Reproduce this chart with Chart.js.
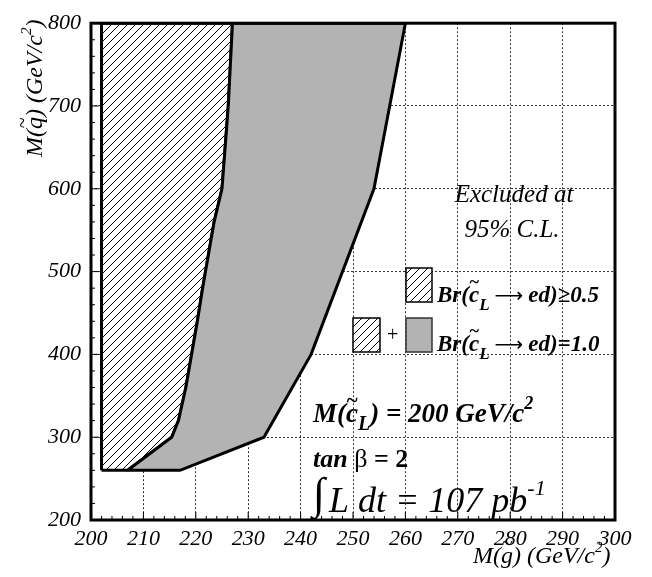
<!DOCTYPE html>
<html>
<head>
<meta charset="utf-8">
<script src="https://cdn.jsdelivr.net/npm/chart.js@4.4.1/dist/chart.umd.min.js"></script>
<style>
  html, body { margin: 0; padding: 0; background: #fff; }
  #wrap { width: 652px; height: 577px; }
</style>
</head>
<body>
<div id="wrap"><canvas id="c" width="652" height="577"></canvas></div>
<script>
// bord droit de la zone hachuree (Br >= 0.5), en (M(g~), M(q~))
const hatchX = [202, 202, 227, 226.2, 225, 223.5, 222.4, 221.3, 220.3, 219.2, 218.1, 216.7, 215.4, 207, 202];
const hatchY = [260, 800, 800, 700, 600, 560, 520, 480, 440, 400, 360, 320, 300, 260, 260];

// zone grise (Br = 1.0) : bord droit puis retour par la frontiere hachuree
const grayX = [207, 217, 233, 242, 254, 260, 227, 226.2, 225, 223.5, 222.4, 221.3, 220.3, 219.2, 218.1, 216.7, 215.4, 207];
const grayY = [260, 260, 300, 400, 600, 800, 800, 700, 600, 560, 520, 480, 440, 400, 360, 320, 300, 260];

const xTicks = [200, 210, 220, 230, 240, 250, 260, 270, 280, 290, 300];
const yTicks = [200, 300, 400, 500, 600, 700, 800];

const SERIF = '"Liberation Serif", "DejaVu Serif", serif';

function toPoints(xs, ys) {
    return xs.map((x, i) => ({ x: x, y: ys[i] }));
}

// motif hachure
function makeHatch(step) {
    const c = document.createElement('canvas');
    c.width = step; c.height = step;
    const g = c.getContext('2d');
    g.fillStyle = '#fff';
    g.fillRect(0, 0, step, step);
    g.strokeStyle = '#000';
    g.lineWidth = 1;
    g.beginPath();
    g.moveTo(0, step); g.lineTo(step, 0);
    g.moveTo(-2, 2); g.lineTo(2, -2);
    g.moveTo(step - 2, step + 2); g.lineTo(step + 2, step - 2);
    g.stroke();
    return document.getElementById('c').getContext('2d').createPattern(c, 'repeat');
}
const hatch = makeHatch(8);
const GRAY = '#b3b3b3';

// texte avec indices / exposants / tilde
function rich(ctx, x, y, parts) {
    ctx.save();
    ctx.textBaseline = 'alphabetic';
    ctx.textAlign = 'left';
    let cx = x;
    parts.forEach(p => {
        ctx.font = p.f;
        const w = ctx.measureText(p.t).width;
        ctx.fillStyle = '#000';
        ctx.fillText(p.t, cx, y + (p.dy || 0));
        if (p.tilde) {
            ctx.font = p.tf || p.f;
            const tw = ctx.measureText('~').width;
            ctx.fillText('~', cx + (w - tw) / 2 + (p.tx || 0), y + (p.dy || 0) - p.tilde);
        }
        cx += w + (p.gap || 0);
    });
    ctx.restore();
    return cx;
}

function box(ctx, x, y, w, h, fill, stroke) {
    ctx.save();
    ctx.fillStyle = fill;
    ctx.fillRect(x, y, w, h);
    ctx.strokeStyle = stroke;
    ctx.lineWidth = 1.5;
    ctx.strokeRect(x, y, w, h);
    ctx.restore();
}

const decor = {
    id: 'decor',
    beforeDraw(chart) {
        const ctx = chart.ctx;
        ctx.save();
        ctx.fillStyle = '#fff';
        ctx.fillRect(0, 0, chart.width, chart.height);
        ctx.restore();
    },
    afterDatasetsDraw(chart) {
        const ctx = chart.ctx;
        const a = chart.chartArea;
        const xs = chart.scales.x, ys = chart.scales.y;

        // petites graduations vers l'interieur
        ctx.save();
        ctx.strokeStyle = '#000';
        ctx.lineWidth = 1;
        ctx.beginPath();
        for (let v = 200; v <= 300; v += 2) {
            const px = xs.getPixelForValue(v);
            const len = v % 10 === 0 ? 8 : 4;
            ctx.moveTo(px, a.bottom); ctx.lineTo(px, a.bottom - len);
        }
        for (let v = 200; v <= 800; v += 20) {
            const py = ys.getPixelForValue(v);
            const len = v % 100 === 0 ? 8 : 4;
            ctx.moveTo(a.left, py); ctx.lineTo(a.left + len, py);
        }
        ctx.stroke();

        // cadre
        ctx.lineWidth = 3;
        ctx.strokeRect(a.left, a.top, a.right - a.left, a.bottom - a.top);
        ctx.restore();

        const it = s => 'italic ' + s + 'px ' + SERIF;
        const bi = s => 'italic bold ' + s + 'px ' + SERIF;
        const arrow = '20px "DejaVu Sans", sans-serif';

        // Excluded at 95% C.L.
        ctx.save();
        ctx.fillStyle = '#000';
        ctx.textAlign = 'center';
        ctx.font = it(25);
        ctx.fillText('Excluded at', 514, 202);
        ctx.fillText('95% C.L.', 512, 237);
        ctx.restore();

        // legende
        box(ctx, 406, 268, 26, 34, hatch, '#000');
        rich(ctx, 437, 302, [
            { t: 'Br(', f: bi(23) },
            { t: 'c', f: bi(23), tilde: 14, tf: bi(18) },
            { t: 'L', f: bi(17), dy: 8, gap: 5 },
            { t: '\u27f6', f: arrow, gap: 5 },
            { t: 'ed)\u22650.5', f: bi(23) }
        ]);
        box(ctx, 353, 318, 27, 34, hatch, '#000');
        ctx.save();
        ctx.font = '20px ' + SERIF;
        ctx.fillStyle = '#000';
        ctx.fillText('+', 387, 341);
        ctx.restore();
        box(ctx, 406, 318, 26, 34, GRAY, '#333');
        rich(ctx, 437, 351, [
            { t: 'Br(', f: bi(23) },
            { t: 'c', f: bi(23), tilde: 14, tf: bi(18) },
            { t: 'L', f: bi(17), dy: 8, gap: 5 },
            { t: '\u27f6', f: arrow, gap: 5 },
            { t: 'ed)=1.0', f: bi(23) }
        ]);

        // parametres
        rich(ctx, 313, 422, [
            { t: 'M(', f: bi(27) },
            { t: 'c', f: bi(27), tilde: 15, tf: bi(21) },
            { t: 'L', f: bi(20), dy: 8 },
            { t: ') = 200 GeV/c', f: bi(27) },
            { t: '2', f: bi(18), dy: -13 }
        ]);
        rich(ctx, 313, 467, [
            { t: 'tan', f: bi(26) },
            { t: ' \u03b2', f: '26px ' + SERIF },
            { t: ' = 2', f: 'bold 26px ' + SERIF }
        ]);
        rich(ctx, 313, 512, [
            { t: '\u222b', f: it(44), dy: -4, gap: 4 },
            { t: 'L dt = 107 pb', f: it(36) },
            { t: '-1', f: it(22), dy: -17 }
        ]);

        // titres des axes
        ctx.save();
        ctx.translate(42, 157);
        ctx.rotate(-Math.PI / 2);
        rich(ctx, 0, 0, [
            { t: 'M(', f: it(24) },
            { t: 'q', f: it(24), tilde: 13, tf: it(20) },
            { t: ') (GeV/c', f: it(24) },
            { t: '2', f: it(15), dy: -11 },
            { t: ')', f: it(24) }
        ]);
        ctx.restore();
        rich(ctx, 473, 563, [
            { t: 'M(', f: it(24) },
            { t: 'g', f: it(24), tilde: 13, tf: it(20) },
            { t: ') (GeV/c', f: it(24) },
            { t: '2', f: it(15), dy: -11 },
            { t: ')', f: it(24) }
        ]);
    }
};

function gridColor(ends) {
    return ctx => ends.includes(ctx.tick && ctx.tick.value) ? 'rgba(0,0,0,0)' : '#333';
}

new Chart(document.getElementById('c'), {
    type: 'line',
    data: {
        datasets: [
            {
                data: toPoints(grayX, grayY),
                borderColor: '#000',
                borderWidth: 3,
                backgroundColor: GRAY,
                fill: 'shape',
                pointRadius: 0,
                tension: 0
            },
            {
                data: toPoints(hatchX, hatchY),
                borderColor: '#000',
                borderWidth: 3,
                backgroundColor: hatch,
                fill: 'shape',
                pointRadius: 0,
                tension: 0
            }
        ]
    },
    options: {
        responsive: false,
        animation: false,
        devicePixelRatio: 1,
        layout: { padding: { left: 0, top: 16, right: 37, bottom: 0 } },
        plugins: { legend: { display: false }, tooltip: { enabled: false } },
        scales: {
            x: {
                type: 'linear',
                min: 200, max: 300,
                afterFit: s => { s.height = 57; },
                afterBuildTicks: s => { s.ticks = xTicks.map(v => ({ value: v })); },
                grid: { color: gridColor([200, 300]), lineWidth: 1, drawTicks: false },
                border: { display: false, dash: [2, 2] },
                ticks: {
                    padding: 6,
                    color: '#000',
                    font: { family: SERIF, style: 'italic', size: 22 }
                }
            },
            y: {
                min: 200, max: 800,
                afterFit: s => { s.width = 91; },
                afterBuildTicks: s => { s.ticks = yTicks.map(v => ({ value: v })); },
                grid: { color: gridColor([200, 800]), lineWidth: 1, drawTicks: false },
                border: { display: false, dash: [2, 2] },
                ticks: {
                    padding: 10,
                    color: '#000',
                    font: { family: SERIF, style: 'italic', size: 22 }
                }
            }
        }
    },
    plugins: [decor]
});
</script>
</body>
</html>
